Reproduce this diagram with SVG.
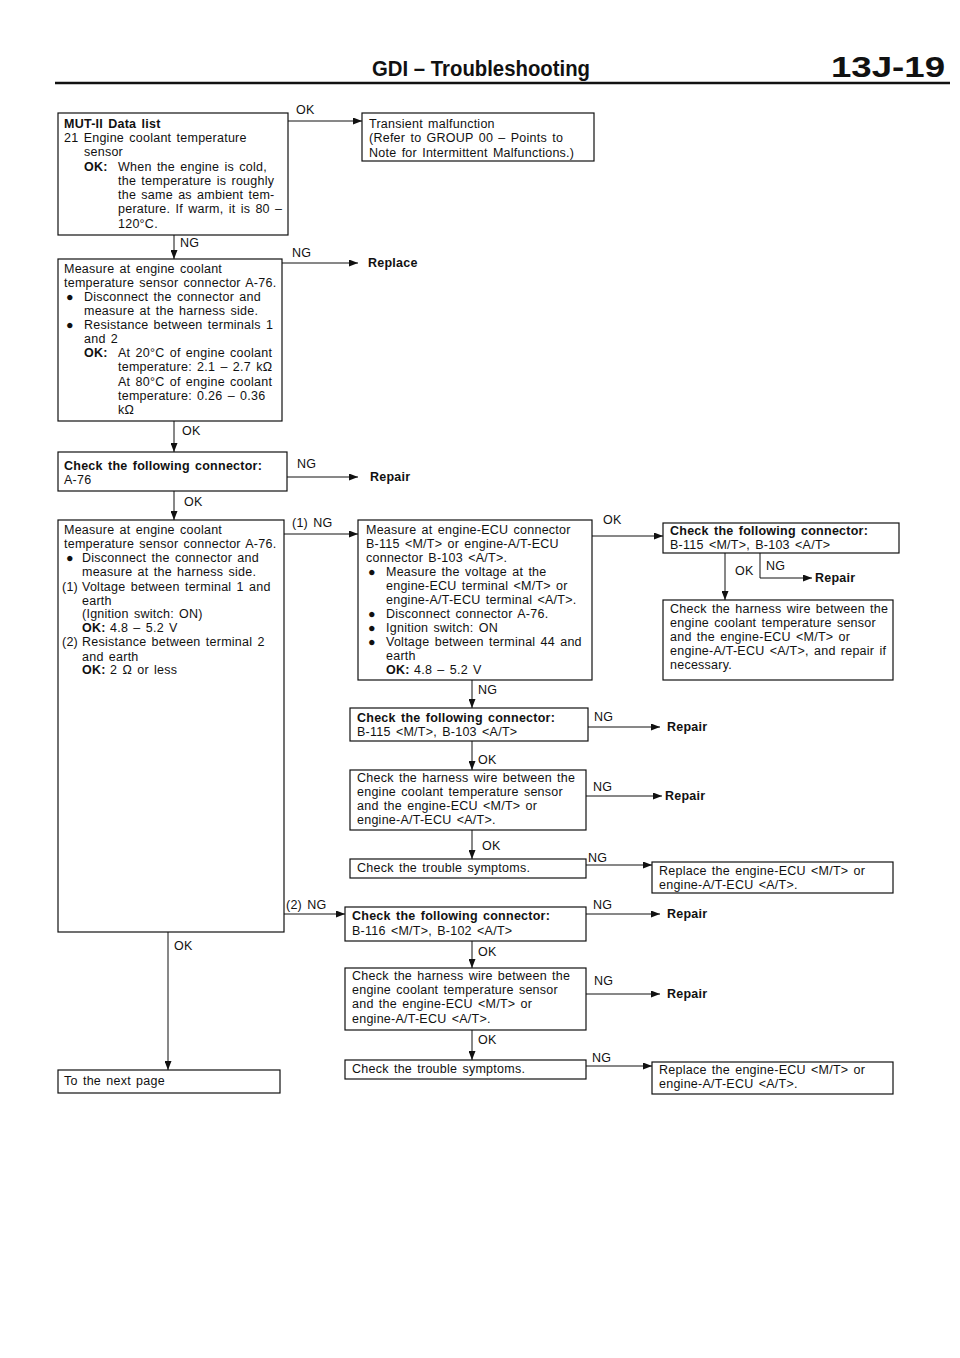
<svg xmlns="http://www.w3.org/2000/svg" width="960" height="1358" viewBox="0 0 960 1358">
<style>
text{font-family:"Liberation Sans",Arial,sans-serif;font-size:12.5px;fill:#111;letter-spacing:0.25px;word-spacing:1.5px}
.b{font-weight:bold}
.lbl{font-size:12.5px}
.box{fill:#fff;stroke:#111;stroke-width:1.2}
.c{fill:none;stroke:#111;stroke-width:1}
.h1{font-weight:bold;letter-spacing:0;word-spacing:0;font-size:22px}
.h2{font-weight:bold;letter-spacing:0;word-spacing:0;font-size:30px}
</style>
<defs>
<marker id="ah" markerUnits="userSpaceOnUse" markerWidth="9" markerHeight="7" refX="9" refY="3.5" orient="auto">
<path d="M0,0 L9,3.5 L0,7 z" fill="#111"/>
</marker>
</defs>
<rect width="960" height="1358" fill="#fff"/>
<g id="header">
<text class="h1" x="372" y="76" textLength="218" lengthAdjust="spacingAndGlyphs">GDI – Troubleshooting</text>
<text class="h2" x="831" y="77" textLength="114" lengthAdjust="spacingAndGlyphs">13J-19</text>
<line x1="55" y1="83" x2="950" y2="83" stroke="#111" stroke-width="2.5"/>
</g>

<g id="connectors">
<path class="c" d="M288,121 H362" marker-end="url(#ah)"/>
<path class="c" d="M174,235 V259" marker-end="url(#ah)"/>
<path class="c" d="M282,263 H358" marker-end="url(#ah)"/>
<path class="c" d="M174,421 V452" marker-end="url(#ah)"/>
<path class="c" d="M287,477 H358" marker-end="url(#ah)"/>
<path class="c" d="M174,491 V520" marker-end="url(#ah)"/>
<path class="c" d="M284,534 H358" marker-end="url(#ah)"/>
<path class="c" d="M592,536 H663" marker-end="url(#ah)"/>
<path class="c" d="M725,553 V600" marker-end="url(#ah)"/>
<path class="c" d="M760,553 V578 H812" marker-end="url(#ah)"/>
<path class="c" d="M472,680 V708" marker-end="url(#ah)"/>
<path class="c" d="M588,727 H660" marker-end="url(#ah)"/>
<path class="c" d="M472,741 V770" marker-end="url(#ah)"/>
<path class="c" d="M586,796 H662" marker-end="url(#ah)"/>
<path class="c" d="M472,830 V859" marker-end="url(#ah)"/>
<path class="c" d="M586,865 H652" marker-end="url(#ah)"/>
<path class="c" d="M284,914 H345" marker-end="url(#ah)"/>
<path class="c" d="M586,914 H660" marker-end="url(#ah)"/>
<path class="c" d="M472,941 V968" marker-end="url(#ah)"/>
<path class="c" d="M586,994 H660" marker-end="url(#ah)"/>
<path class="c" d="M472,1030 V1060" marker-end="url(#ah)"/>
<path class="c" d="M586,1066 H652" marker-end="url(#ah)"/>
<path class="c" d="M168,932 V1070" marker-end="url(#ah)"/>
<text class="lbl" x="296" y="114">OK</text>
<text class="lbl" x="180" y="247">NG</text>
<text class="lbl" x="292" y="257">NG</text>
<text class="lbl" x="182" y="435">OK</text>
<text class="lbl" x="297" y="468">NG</text>
<text class="lbl" x="184" y="506">OK</text>
<text class="lbl" x="292" y="527">(1) NG</text>
<text class="lbl" x="603" y="524">OK</text>
<text class="lbl" x="735" y="575">OK</text>
<text class="lbl" x="766" y="570">NG</text>
<text class="lbl" x="478" y="694">NG</text>
<text class="lbl" x="594" y="721">NG</text>
<text class="lbl" x="478" y="764">OK</text>
<text class="lbl" x="593" y="791">NG</text>
<text class="lbl" x="482" y="850">OK</text>
<text class="lbl" x="588" y="862">NG</text>
<text class="lbl" x="286" y="909">(2) NG</text>
<text class="lbl" x="593" y="909">NG</text>
<text class="lbl" x="478" y="956">OK</text>
<text class="lbl" x="594" y="985">NG</text>
<text class="lbl" x="478" y="1044">OK</text>
<text class="lbl" x="592" y="1062">NG</text>
<text class="lbl" x="174" y="950">OK</text>
</g>

<g id="n-mut">
<rect class="box" x="58" y="113" width="230" height="122"/>
<text class="b" x="64" y="128">MUT-II Data list</text>
<text x="64" y="142">21 Engine coolant temperature</text>
<text x="84" y="156">sensor</text>
<text class="b" x="84" y="170.5">OK:</text>
<text x="118" y="170.5">When the engine is cold,</text>
<text x="118" y="185">the temperature is roughly</text>
<text x="118" y="199">the same as ambient tem-</text>
<text x="118" y="213">perature. If warm, it is 80 –</text>
<text x="118" y="227.5">120°C.</text>
</g>

<g id="n-transient">
<rect class="box" x="362" y="113" width="232" height="48"/>
<text x="369" y="128">Transient malfunction</text>
<text x="369" y="142">(Refer to GROUP 00 – Points to</text>
<text x="369" y="157">Note for Intermittent Malfunctions.)</text>
</g>

<g id="n-measure1">
<rect class="box" x="58" y="259" width="224" height="162"/>
<text x="64" y="273">Measure at engine coolant</text>
<text x="64" y="287">temperature sensor connector A-76.</text>
<text x="66" y="301">●</text>
<text x="84" y="301">Disconnect the connector and</text>
<text x="84" y="315">measure at the harness side.</text>
<text x="66" y="329">●</text>
<text x="84" y="329">Resistance between terminals 1</text>
<text x="84" y="343">and 2</text>
<text class="b" x="84" y="357">OK:</text>
<text x="118" y="357">At 20°C of engine coolant</text>
<text x="118" y="371">temperature: 2.1 – 2.7 kΩ</text>
<text x="118" y="386">At 80°C of engine coolant</text>
<text x="118" y="400">temperature: 0.26 – 0.36</text>
<text x="118" y="414">kΩ</text>
</g>

<g id="n-replace-a">
<text class="b" x="368" y="267">Replace</text>
</g>

<g id="n-check-a76">
<rect class="box" x="58" y="452" width="229" height="39"/>
<text class="b" x="64" y="470">Check the following connector:</text>
<text x="64" y="484">A-76</text>
</g>

<g id="n-repair-a">
<text class="b" x="370" y="481">Repair</text>
</g>

<g id="n-measure2">
<rect class="box" x="58" y="520" width="226" height="412"/>
<text x="64" y="534">Measure at engine coolant</text>
<text x="64" y="548">temperature sensor connector A-76.</text>
<text x="66" y="562">●</text>
<text x="82" y="562">Disconnect the connector and</text>
<text x="82" y="576">measure at the harness side.</text>
<text x="62" y="591">(1)</text>
<text x="82" y="591">Voltage between terminal 1 and</text>
<text x="82" y="605">earth</text>
<text x="82" y="618">(Ignition switch: ON)</text>
<text class="b" x="82" y="632">OK:</text>
<text x="110" y="632">4.8 – 5.2 V</text>
<text x="62" y="646">(2)</text>
<text x="82" y="646">Resistance between terminal 2</text>
<text x="82" y="661">and earth</text>
<text class="b" x="82" y="674">OK:</text>
<text x="110" y="674">2 Ω or less</text>
</g>

<g id="n-measure-ecu">
<rect class="box" x="358" y="520" width="234" height="160"/>
<text x="366" y="534">Measure at engine-ECU connector</text>
<text x="366" y="548">B-115 &lt;M/T&gt; or engine-A/T-ECU</text>
<text x="366" y="562">connector B-103 &lt;A/T&gt;.</text>
<text x="368" y="576">●</text>
<text x="386" y="576">Measure the voltage at the</text>
<text x="386" y="590">engine-ECU terminal &lt;M/T&gt; or</text>
<text x="386" y="604">engine-A/T-ECU terminal &lt;A/T&gt;.</text>
<text x="368" y="618">●</text>
<text x="386" y="618">Disconnect connector A-76.</text>
<text x="368" y="632">●</text>
<text x="386" y="632">Ignition switch: ON</text>
<text x="368" y="646">●</text>
<text x="386" y="646">Voltage between terminal 44 and</text>
<text x="386" y="660">earth</text>
<text class="b" x="386" y="674">OK:</text>
<text x="414" y="674">4.8 – 5.2 V</text>
</g>

<g id="n-check-b115-r">
<rect class="box" x="663" y="523" width="236" height="30"/>
<text class="b" x="670" y="535">Check the following connector:</text>
<text x="670" y="549">B-115 &lt;M/T&gt;, B-103 &lt;A/T&gt;</text>
</g>

<g id="n-repair-b">
<text class="b" x="815" y="582">Repair</text>
</g>

<g id="n-harness-r">
<rect class="box" x="663" y="600" width="230" height="80"/>
<text x="670" y="613">Check the harness wire between the</text>
<text x="670" y="627">engine coolant temperature sensor</text>
<text x="670" y="641">and the engine-ECU &lt;M/T&gt; or</text>
<text x="670" y="655">engine-A/T-ECU &lt;A/T&gt;, and repair if</text>
<text x="670" y="669">necessary.</text>
</g>

<g id="n-check-b115">
<rect class="box" x="350" y="708" width="238" height="33"/>
<text class="b" x="357" y="722">Check the following connector:</text>
<text x="357" y="736">B-115 &lt;M/T&gt;, B-103 &lt;A/T&gt;</text>
</g>

<g id="n-repair-c">
<text class="b" x="667" y="731">Repair</text>
</g>

<g id="n-harness-1">
<rect class="box" x="350" y="770" width="236" height="60"/>
<text x="357" y="782">Check the harness wire between the</text>
<text x="357" y="796">engine coolant temperature sensor</text>
<text x="357" y="810">and the engine-ECU &lt;M/T&gt; or</text>
<text x="357" y="824">engine-A/T-ECU &lt;A/T&gt;.</text>
</g>

<g id="n-repair-d">
<text class="b" x="665" y="800">Repair</text>
</g>

<g id="n-symptoms-1">
<rect class="box" x="350" y="859" width="236" height="19"/>
<text x="357" y="872">Check the trouble symptoms.</text>
</g>

<g id="n-replace-ecu-1">
<rect class="box" x="652" y="862" width="241" height="31"/>
<text x="659" y="875">Replace the engine-ECU &lt;M/T&gt; or</text>
<text x="659" y="889">engine-A/T-ECU &lt;A/T&gt;.</text>
</g>

<g id="n-check-b116">
<rect class="box" x="345" y="907" width="241" height="34"/>
<text class="b" x="352" y="920">Check the following connector:</text>
<text x="352" y="935">B-116 &lt;M/T&gt;, B-102 &lt;A/T&gt;</text>
</g>

<g id="n-repair-e">
<text class="b" x="667" y="918">Repair</text>
</g>

<g id="n-harness-2">
<rect class="box" x="345" y="968" width="241" height="62"/>
<text x="352" y="980">Check the harness wire between the</text>
<text x="352" y="994">engine coolant temperature sensor</text>
<text x="352" y="1008">and the engine-ECU &lt;M/T&gt; or</text>
<text x="352" y="1023">engine-A/T-ECU &lt;A/T&gt;.</text>
</g>

<g id="n-repair-f">
<text class="b" x="667" y="998">Repair</text>
</g>

<g id="n-symptoms-2">
<rect class="box" x="345" y="1060" width="241" height="19"/>
<text x="352" y="1073">Check the trouble symptoms.</text>
</g>

<g id="n-replace-ecu-2">
<rect class="box" x="652" y="1062" width="241" height="32"/>
<text x="659" y="1074">Replace the engine-ECU &lt;M/T&gt; or</text>
<text x="659" y="1088">engine-A/T-ECU &lt;A/T&gt;.</text>
</g>

<g id="n-next-page">
<rect class="box" x="58" y="1070" width="222" height="23"/>
<text x="64" y="1085">To the next page</text>
</g>
</svg>
